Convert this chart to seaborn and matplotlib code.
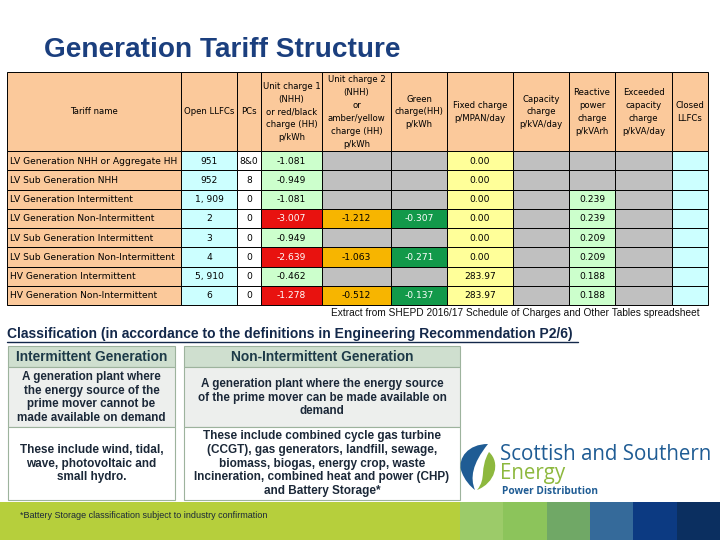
import matplotlib
matplotlib.use("Agg")
import matplotlib.pyplot as plt
import seaborn as sns
from matplotlib.patches import Rectangle, PathPatch
from matplotlib.path import Path

sns.set_theme(style="white")
plt.rcParams['font.family'] = ['DejaVu Sans']

# ---------------- data ----------------
title = "Generation Tariff Structure"
headers = ["Tariff name", "Open LLFCs", "PCs",
           "Unit charge 1\n(NHH)\nor red/black\ncharge (HH)\np/kWh",
           "Unit charge 2\n(NHH)\nor\namber/yellow\ncharge (HH)\np/kWh",
           "Green\ncharge(HH)\np/kWh",
           "Fixed charge\np/MPAN/day",
           "Capacity\ncharge\np/kVA/day",
           "Reactive\npower\ncharge\np/kVArh",
           "Exceeded\ncapacity\ncharge\np/kVA/day",
           "Closed\nLLFCs"]
tariff_names = ["LV Generation NHH or Aggregate HH", "LV Sub Generation NHH",
                "LV Generation Intermittent", "LV Generation Non-Intermittent",
                "LV Sub Generation Intermittent", "LV Sub Generation Non-Intermittent",
                "HV Generation Intermittent", "HV Generation Non-Intermittent"]
open_llfcs = ["951", "952", "1, 909", "2", "3", "4", "5, 910", "6"]
pcs = ["8&0", "8", "0", "0", "0", "0", "0", "0"]
unit_charge_1 = [-1.081, -0.949, -1.081, -3.007, -0.949, -2.639, -0.462, -1.278]
unit_charge_2 = [None, None, None, -1.212, None, -1.063, None, -0.512]
green_charge = [None, None, None, -0.307, None, -0.271, None, -0.137]
fixed_charge = [0.00, 0.00, 0.00, 0.00, 0.00, 0.00, 283.97, 283.97]
capacity_charge = [None] * 8
reactive_charge = [None, None, 0.239, 0.239, 0.209, 0.209, 0.188, 0.188]
exceeded_charge = [None] * 8
closed_llfcs = [""] * 8

source_note = "Extract from SHEPD 2016/17 Schedule of Charges and Other Tables spreadsheet"
class_title = "Classification (in accordance to the definitions in Engineering Recommendation P2/6)"
class_heads = ["Intermittent Generation", "Non-Intermittent Generation"]
class_defs = ["A generation plant where\nthe energy source of the\nprime mover cannot be\nmade available on demand",
              "A generation plant where the energy source\nof the prime mover can be made available on\ndemand"]
class_examples = ["These include wind, tidal,\nwave, photovoltaic and\nsmall hydro.",
                  "These include combined cycle gas turbine\n(CCGT), gas generators, landfill, sewage,\nbiomass, biogas, energy crop, waste\nIncineration, combined heat and power (CHP)\nand Battery Storage*"]
battery_note = "*Battery Storage classification subject to industry confirmation"
stripe_colors = ["#9CCB69", "#8CC45B", "#70A866", "#356A9A", "#0C3A82", "#0B2F60"]

# ---------------- styles ----------------
PEACH = "#FBC99B"
CYAN = "#CCFFFF"
LGREEN = "#CCFFCC"
GREY = "#C0C0C0"
YELLOW = "#FFFF99"
RED = "#E8120F"
ORANGE = "#F7B500"
DGREEN = "#12994A"

col_edges = [7, 181, 237, 261, 322, 391, 447, 513, 569, 615, 672, 708]
head_top, head_bot = 72, 151
row_h = 19.25

fig = plt.figure(figsize=(7.2, 5.4), dpi=100)
ax = fig.add_axes([0, 0, 1, 1])
ax.set_xlim(0, 720)
ax.set_ylim(540, 0)
ax.axis("off")

ax.text(44, 50, title, fontsize=20.2, fontweight="bold", color="#1B3F7E",
        family="Liberation Sans", va="center", ha="left")

def cell(x0, x1, y0, y1, fc, txt="", color="black", ha="center", bold=False, fs=6.2, ls=1.55):
    ax.add_patch(Rectangle((x0, y0), x1 - x0, y1 - y0, facecolor=fc,
                           edgecolor="black", linewidth=0.7))
    if txt:
        tx = (x0 + x1) / 2 if ha == "center" else x0 + 3
        ax.text(tx, (y0 + y1) / 2 + 0.5, txt, ha=ha, va="center", fontsize=fs,
                color=color, fontweight="bold" if bold else "normal",
                linespacing=ls, multialignment="center")

# header row
for i, h in enumerate(headers):
    cell(col_edges[i], col_edges[i + 1], head_top, head_bot, PEACH, h, fs=6.1, ls=1.55)

def fmt(v, d):
    return "" if v is None else f"{v:.{d}f}"

for r in range(len(tariff_names)):
    y0 = head_bot + r * row_h
    y1 = y0 + row_h
    nonint = unit_charge_2[r] is not None
    cols = [
        (PEACH, tariff_names[r], "black", "left"),
        (CYAN, open_llfcs[r], "black", "center"),
        ("white", pcs[r], "black", "center"),
        (RED if nonint else LGREEN, fmt(unit_charge_1[r], 3), "white" if nonint else "black", "center"),
        (ORANGE if unit_charge_2[r] is not None else GREY, fmt(unit_charge_2[r], 3), "black", "center"),
        (DGREEN if green_charge[r] is not None else GREY, fmt(green_charge[r], 3), "white", "center"),
        (YELLOW, fmt(fixed_charge[r], 2), "black", "center"),
        (GREY, fmt(capacity_charge[r], 3), "black", "center"),
        (LGREEN if reactive_charge[r] is not None else GREY, fmt(reactive_charge[r], 3), "black", "center"),
        (GREY, fmt(exceeded_charge[r], 3), "black", "center"),
        (CYAN, closed_llfcs[r], "black", "center"),
    ]
    for i, (fc, txt, tc, ha) in enumerate(cols):
        cell(col_edges[i], col_edges[i + 1], y0, y1, fc, txt, color=tc, ha=ha, fs=6.6)

ax.text(700, 313, source_note, ha="right", va="center", fontsize=7.3,
        family="Liberation Sans", color="#111111")

# classification
ax.text(7, 334, class_title, ha="left", va="center", fontsize=10, fontweight="bold",
        family="Liberation Sans", color="#13284A")
ax.plot([7, 578], [341.5, 341.5], color="#13284A", linewidth=1.0)

box_x = [(8, 175), (184, 460)]
rows_y = [(346, 367), (367, 427), (427, 500)]
for k, (x0, x1) in enumerate(box_x):
    ax.add_patch(Rectangle((x0, rows_y[0][0]), x1 - x0, rows_y[0][1] - rows_y[0][0],
                           facecolor="#CFDFCF", edgecolor="#9DB39D", linewidth=0.8))
    ax.add_patch(Rectangle((x0, rows_y[1][0]), x1 - x0, rows_y[1][1] - rows_y[1][0],
                           facecolor="#EDEFED", edgecolor="#9DB39D", linewidth=0.8))
    ax.add_patch(Rectangle((x0, rows_y[2][0]), x1 - x0, rows_y[2][1] - rows_y[2][0],
                           facecolor="white", edgecolor="#9DB39D", linewidth=0.8))
    cx = (x0 + x1) / 2
    ax.text(cx, (rows_y[0][0] + rows_y[0][1]) / 2 + 0.5, class_heads[k], ha="center", va="center",
            fontsize=9.9, fontweight="bold", family="Liberation Sans", color="#1D3A48")
    ax.text(cx, (rows_y[1][0] + rows_y[1][1]) / 2 + 0.5, class_defs[k], ha="center", va="center",
            fontsize=8.4, fontweight="bold", family="Liberation Sans", color="#1B2838",
            linespacing=1.2, multialignment="center")
    ax.text(cx, (rows_y[2][0] + rows_y[2][1]) / 2, class_examples[k], ha="center", va="center",
            fontsize=8.5, fontweight="bold", family="Liberation Sans", color="#1B2838",
            linespacing=1.2, multialignment="center")

# bottom band + stripes
ax.add_patch(Rectangle((0, 502), 460, 38, facecolor="#B6CF3C", edgecolor="none"))
sw = (720 - 460) / len(stripe_colors)
for i, c in enumerate(stripe_colors):
    ax.add_patch(Rectangle((460 + i * sw, 502), sw + 0.5, 38, facecolor=c, edgecolor="none"))
ax.text(20, 515, battery_note, ha="left", va="center", fontsize=6.5,
        family="Liberation Sans", color="#1B2838")

# logo
blue_path = Path([(488, 444), (468, 444), (458, 458), (461, 470),
                  (464, 480), (471, 487), (475, 490),
                  (470, 478), (472, 464), (488, 444)],
                 [Path.MOVETO, Path.CURVE4, Path.CURVE4, Path.CURVE4,
                  Path.CURVE4, Path.CURVE4, Path.CURVE4,
                  Path.CURVE4, Path.CURVE4, Path.CURVE4])
green_path = Path([(489, 452), (501, 463), (495, 483), (477, 490),
                   (487, 478), (479, 469), (489, 452)],
                  [Path.MOVETO, Path.CURVE4, Path.CURVE4, Path.CURVE4,
                   Path.CURVE4, Path.CURVE4, Path.CURVE4])
ax.add_patch(PathPatch(blue_path, facecolor="#1F5C94", edgecolor="none"))
ax.add_patch(PathPatch(green_path, facecolor="#8DB83E", edgecolor="none"))
ax.text(500, 454, "Scottish and Southern", ha="left", va="center", fontsize=14.8,
        family="Open Sans", color="#1F5C94")
ax.text(500, 474, "Energy", ha="left", va="center", fontsize=14.8,
        family="Open Sans", color="#8DB83E")
ax.text(502, 491, "Power Distribution", ha="left", va="center", fontsize=7.3,
        fontweight="bold", family="Open Sans", color="#1F5C94")

fig.savefig("out.png", dpi=100)
